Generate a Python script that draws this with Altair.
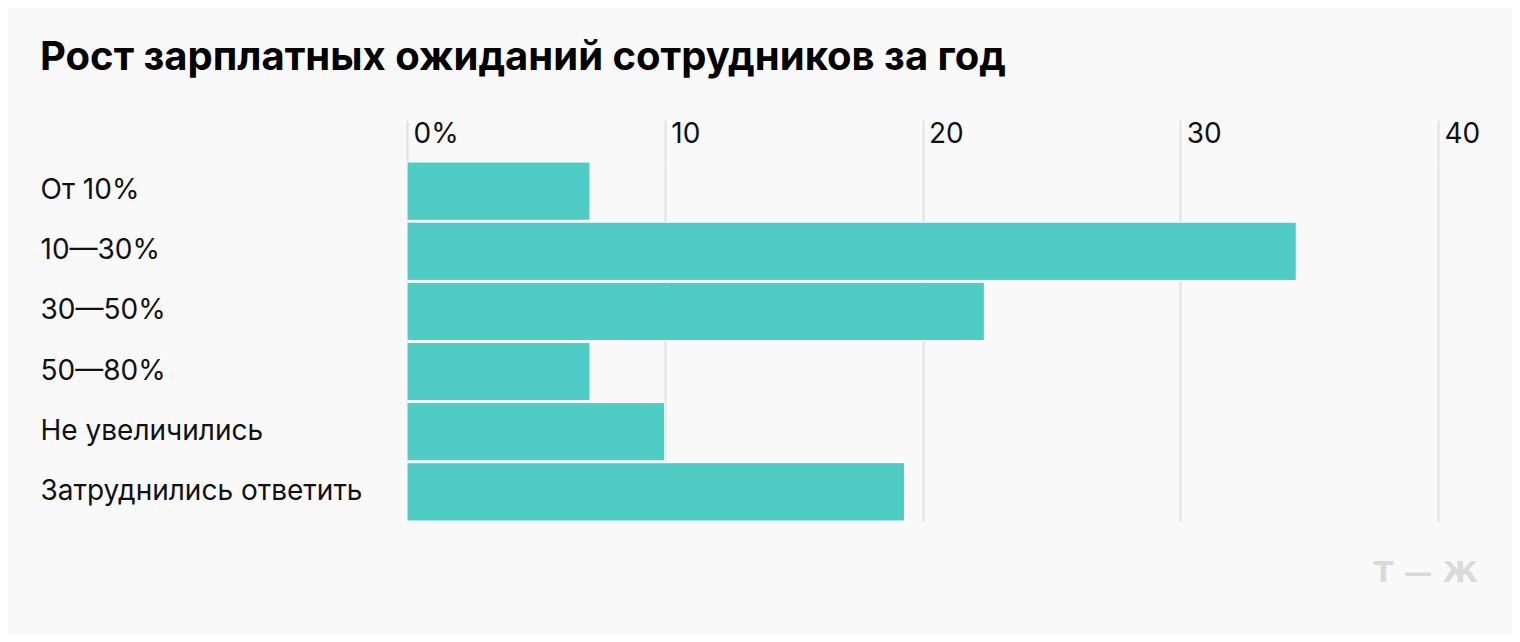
import altair as alt
import pandas as pd

categories = ["От 10%", "10—30%", "30—50%", "50—80%", "Не увеличились", "Затруднились ответить"]
values = [7.1, 34.5, 22.4, 7.1, 10.0, 19.3]
tick_values = [0, 10, 20, 30, 40]

title_text = "Рост зарплатных ожиданий сотрудников за год"
logo_text = "Т — Ж"

df = pd.DataFrame({"category": categories, "value": values})

W, H = 1031, 359

bars = alt.Chart(df).mark_bar(color="#4fcdc4", stroke="#ffffff", strokeWidth=1).encode(
    x=alt.X(
        "value:Q",
        scale=alt.Scale(domain=[0, 40], nice=False),
        axis=alt.Axis(
            orient="top",
            values=tick_values,
            title=None,
            domain=False,
            ticks=True,
            tickSize=42,
            tickColor="#e1e1e1",
            tickWidth=2,
            grid=True,
            gridColor="#e1e1e1",
            gridWidth=2,
            labelAlign="left",
            labelOffset=6,
            labelPadding=-22,
            labelBaseline="alphabetic",
            labelFont="Inter",
            labelFontSize=28,
            labelColor="#111111",
            labelExpr="datum.value == 0 ? '0%' : datum.label",
        ),
    ),
    y=alt.Y(
        "category:N",
        sort=categories,
        scale=alt.Scale(paddingInner=0.03, paddingOuter=0.0),
        axis=alt.Axis(
            title=None,
            domain=False,
            ticks=False,
            tickSize=0,
            labelAlign="left",
            labelPadding=367,
            labelBaseline="middle",
            labelFont="Inter",
            labelFontSize=28,
            labelColor="#111111",
            labelLimit=400,
        ),
    ),
)

logo = alt.Chart(pd.DataFrame({"t": [logo_text]})).mark_text(
    font="DejaVu Sans", fontSize=29, fontWeight="bold", color="#dadada",
    align="right", baseline="alphabetic",
).encode(
    x=alt.value(1071), y=alt.value(420), text="t:N"
)

chart = alt.layer(bars, logo).properties(
    width=W,
    height=H,
    title=alt.TitleParams(
        text=title_text,
        anchor="start",
        frame="bounds",
        font="Inter",
        fontSize=40,
        fontWeight="bold",
        color="#000000",
        baseline="alphabetic",
        offset=9,
    ),
    background="#f9f9f9",
    padding={"left": 399, "top": 154, "right": 74, "bottom": 113},
    autosize=alt.AutoSizeParams(type="none"),
).configure_view(stroke=None)

chart.save("out.html", embed_options={"renderer": "svg", "actions": False})
